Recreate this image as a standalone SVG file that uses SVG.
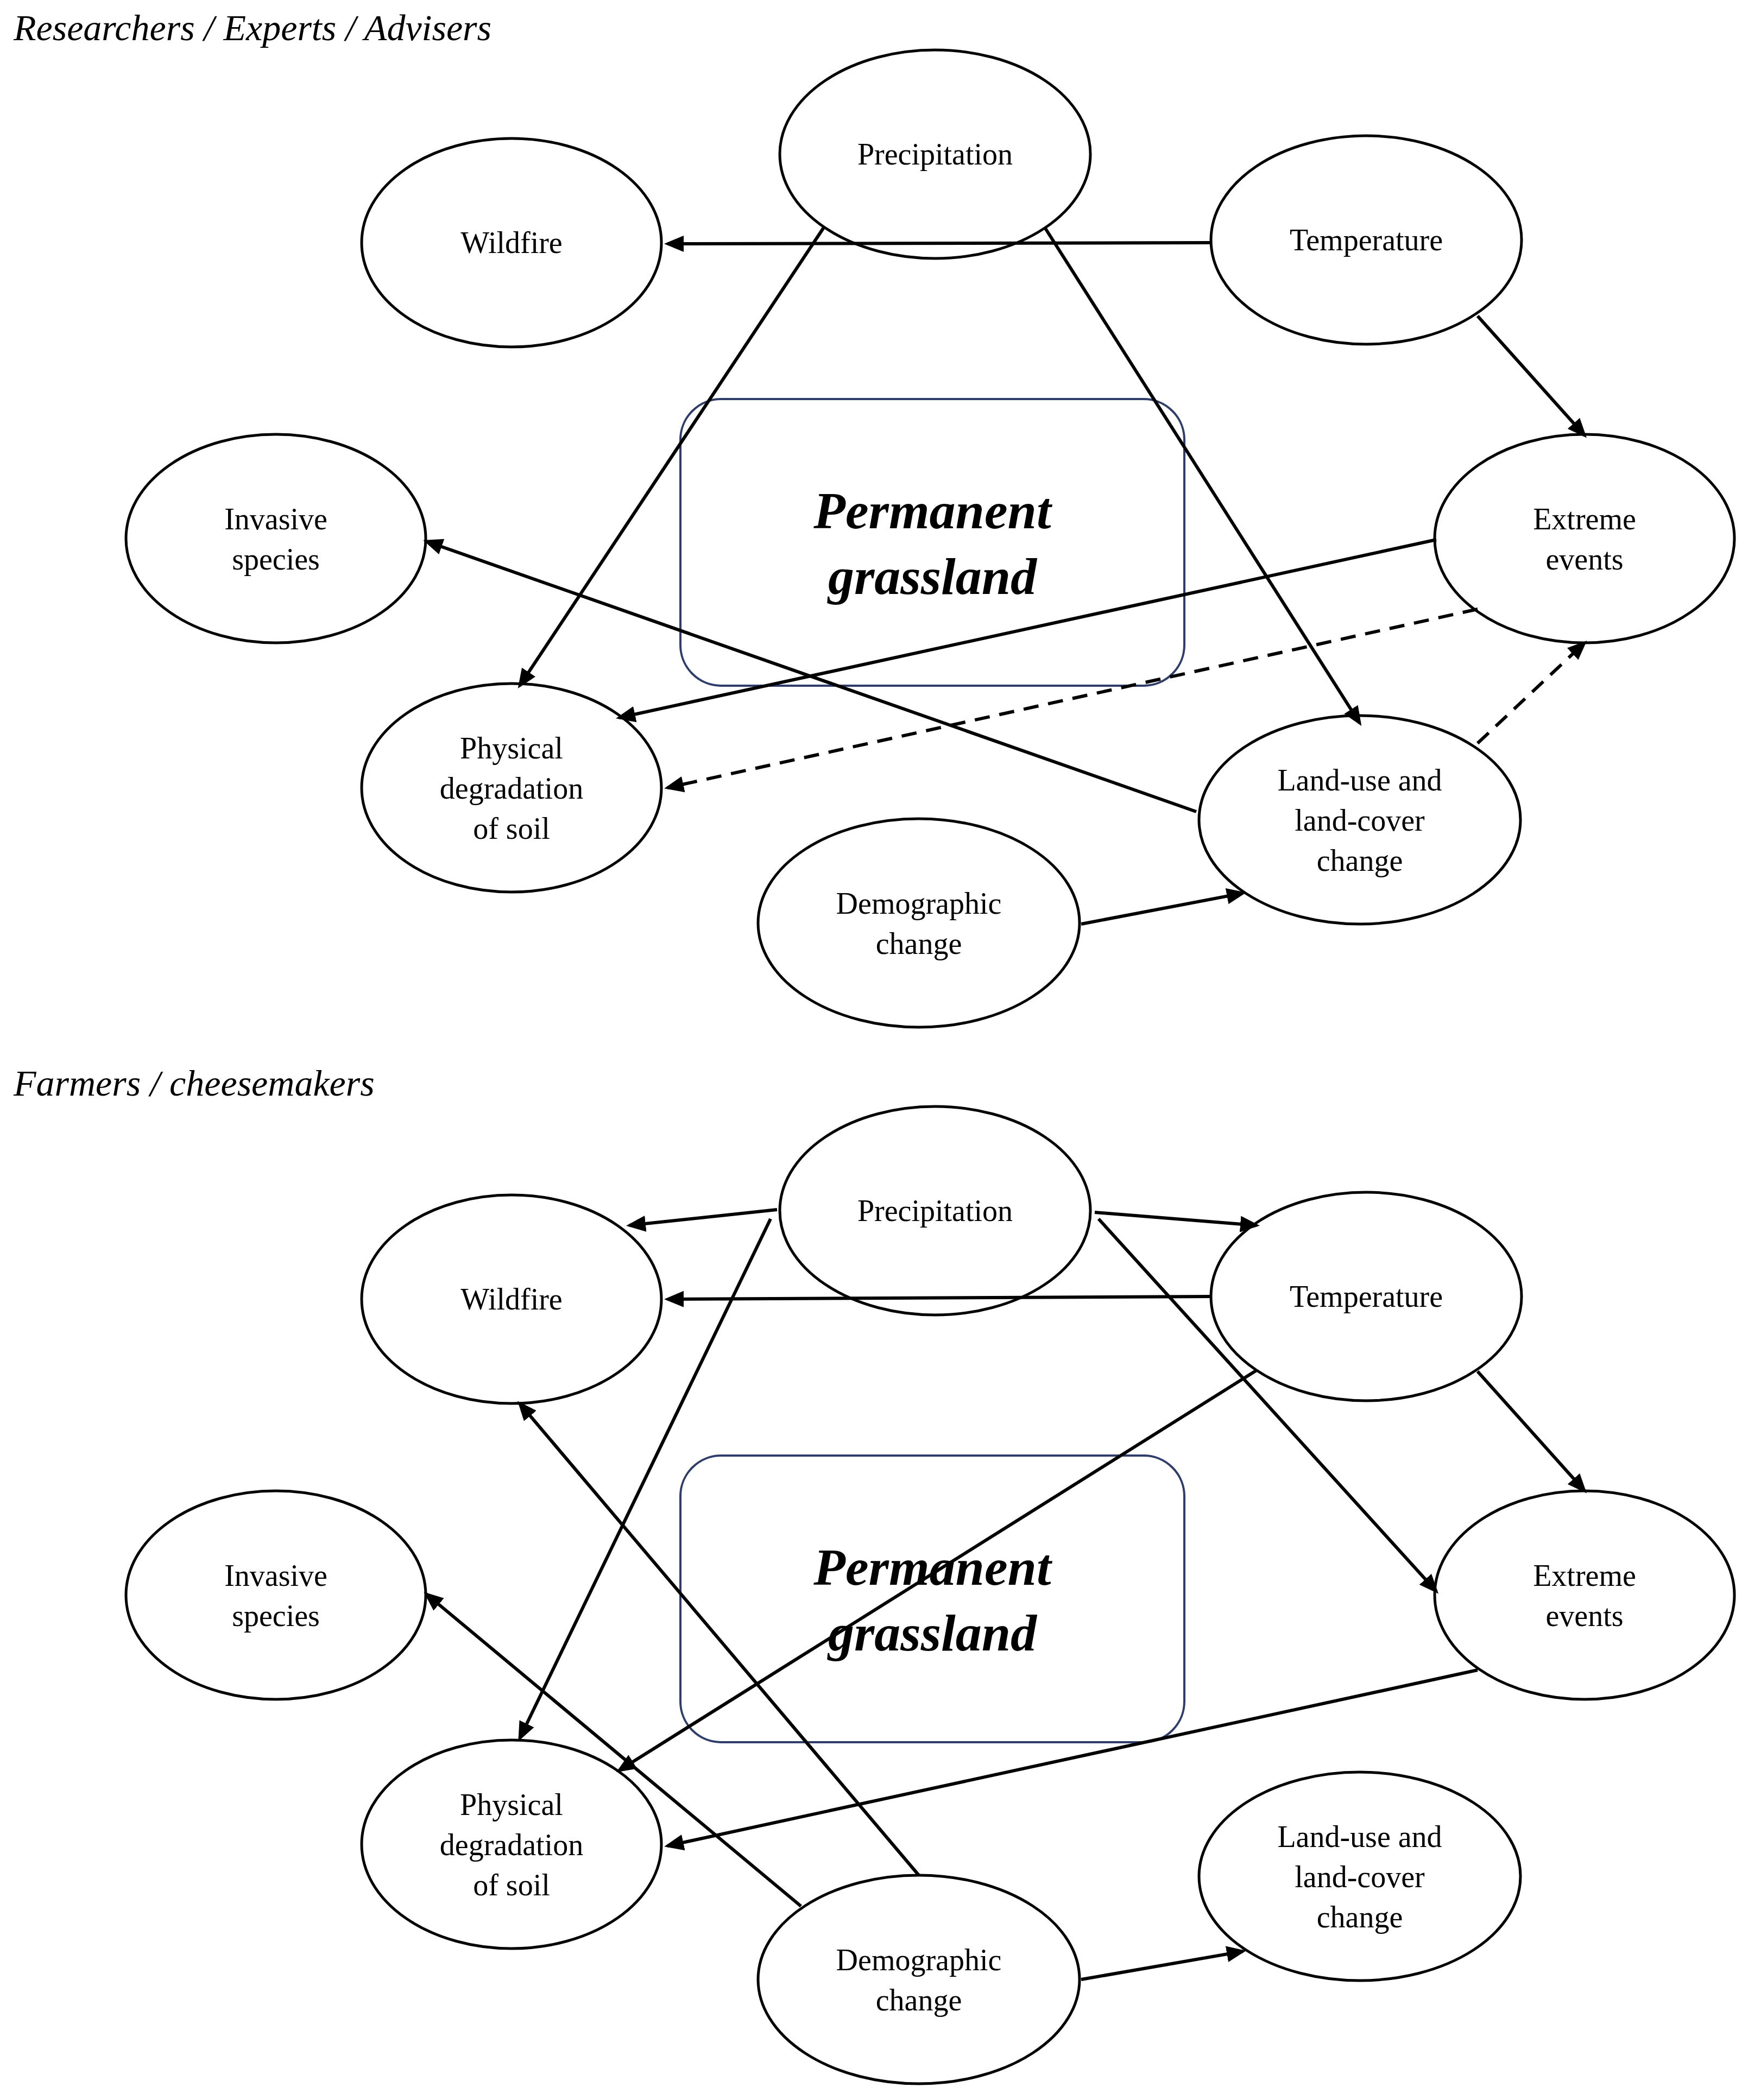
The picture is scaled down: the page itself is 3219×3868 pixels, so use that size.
<svg xmlns="http://www.w3.org/2000/svg" width="3219" height="3868" viewBox="0 0 3219 3868">
<style>
.n{fill:#fff;stroke:#000;stroke-width:5}
.t{font-family:"Liberation Serif","DejaVu Serif",serif;font-size:56px;text-anchor:middle;fill:#000}
.h{font-family:"Liberation Serif","DejaVu Serif",serif;font-size:68px;font-style:italic;fill:#000}
.b{fill:none;stroke:#2f3d6b;stroke-width:4}
.bt{font-family:"Liberation Serif","DejaVu Serif",serif;font-size:96px;font-weight:bold;font-style:italic;text-anchor:middle}
.e{stroke:#000;stroke-width:6;fill:none;marker-end:url(#a)}
.d{stroke-dasharray:28 18}
</style>
<defs><marker id="a" markerWidth="6" markerHeight="6" refX="5" refY="3" orient="auto" markerUnits="strokeWidth"><path d="M0,0.5 L6,3 L0,5.5 Z" fill="#000"/></marker></defs>
<text class="h" x="25" y="74">Researchers / Experts / Advisers</text>
<text class="h" x="25" y="2018">Farmers / cheesemakers</text>
<g id="top">
<g id="box1"><rect class="b" x="1253" y="735" width="928" height="528" rx="75"/><text class="bt" x="1717" y="973">Permanent</text><text class="bt" x="1717" y="1094">grassland</text></g>
<g id="precip1"><ellipse class="n" cx="1722" cy="284" rx="286" ry="192"/><text class="t" x="1722" y="303">Precipitation</text></g>
<g id="wildfire1"><ellipse class="n" cx="942" cy="447" rx="276" ry="192"/><text class="t" x="942" y="466">Wildfire</text></g>
<g id="temp1"><ellipse class="n" cx="2516" cy="442" rx="286" ry="192"/><text class="t" x="2516" y="461">Temperature</text></g>
<g id="invasive1"><ellipse class="n" cx="508" cy="992" rx="276" ry="192"/><text class="t" x="508" y="975">Invasive</text><text class="t" x="508" y="1049">species</text></g>
<g id="extreme1"><ellipse class="n" cx="2918" cy="992" rx="276" ry="192"/><text class="t" x="2918" y="975">Extreme</text><text class="t" x="2918" y="1049">events</text></g>
<g id="phys1"><ellipse class="n" cx="942" cy="1451" rx="276" ry="192"/><text class="t" x="942" y="1397">Physical</text><text class="t" x="942" y="1471">degradation</text><text class="t" x="942" y="1545">of soil</text></g>
<g id="landuse1"><ellipse class="n" cx="2504" cy="1510" rx="296" ry="192"/><text class="t" x="2504" y="1456">Land-use and</text><text class="t" x="2504" y="1530">land-cover</text><text class="t" x="2504" y="1604">change</text></g>
<g id="demo1"><ellipse class="n" cx="1692" cy="1700" rx="296" ry="192"/><text class="t" x="1692" y="1683">Demographic</text><text class="t" x="1692" y="1757">change</text></g>
</g>
<g id="bottom">
<g id="box2"><rect class="b" x="1253" y="2681" width="928" height="528" rx="75"/><text class="bt" x="1717" y="2919">Permanent</text><text class="bt" x="1717" y="3040">grassland</text></g>
<g id="precip2"><ellipse class="n" cx="1722" cy="2230" rx="286" ry="192"/><text class="t" x="1722" y="2249">Precipitation</text></g>
<g id="wildfire2"><ellipse class="n" cx="942" cy="2393" rx="276" ry="192"/><text class="t" x="942" y="2412">Wildfire</text></g>
<g id="temp2"><ellipse class="n" cx="2516" cy="2388" rx="286" ry="192"/><text class="t" x="2516" y="2407">Temperature</text></g>
<g id="invasive2"><ellipse class="n" cx="508" cy="2938" rx="276" ry="192"/><text class="t" x="508" y="2921">Invasive</text><text class="t" x="508" y="2995">species</text></g>
<g id="extreme2"><ellipse class="n" cx="2918" cy="2938" rx="276" ry="192"/><text class="t" x="2918" y="2921">Extreme</text><text class="t" x="2918" y="2995">events</text></g>
<g id="phys2"><ellipse class="n" cx="942" cy="3397" rx="276" ry="192"/><text class="t" x="942" y="3343">Physical</text><text class="t" x="942" y="3417">degradation</text><text class="t" x="942" y="3491">of soil</text></g>
<g id="landuse2"><ellipse class="n" cx="2504" cy="3456" rx="296" ry="192"/><text class="t" x="2504" y="3402">Land-use and</text><text class="t" x="2504" y="3476">land-cover</text><text class="t" x="2504" y="3550">change</text></g>
<g id="demo2"><ellipse class="n" cx="1692" cy="3646" rx="296" ry="192"/><text class="t" x="1692" y="3629">Demographic</text><text class="t" x="1692" y="3703">change</text></g>
</g>
<g id="connectors">
<line class="e" x1="2228" y1="447" x2="1229" y2="449"/>
<line class="e" x1="1517" y1="419" x2="957" y2="1263"/>
<line class="e" x1="1924" y1="419" x2="2504" y2="1332"/>
<line class="e" x1="2721" y1="582" x2="2918" y2="802"/>
<line class="e" x1="2645" y1="994" x2="1140" y2="1322"/>
<line class="e" x1="2203" y1="1495" x2="785" y2="997"/>
<line class="e d" x1="2721" y1="1122" x2="1229" y2="1451"/>
<line class="e d" x1="2721" y1="1369" x2="2918" y2="1184"/>
<line class="e" x1="1991" y1="1702" x2="2289" y2="1645"/>
<line class="e" x1="1431" y1="2228" x2="1159" y2="2257"/>
<line class="e" x1="2016" y1="2233" x2="2314" y2="2257"/>
<line class="e" x1="2228" y1="2388" x2="1229" y2="2393"/>
<line class="e" x1="1419" y1="2245" x2="957" y2="3202"/>
<line class="e" x1="2023" y1="2245" x2="2645" y2="2931"/>
<line class="e" x1="2721" y1="2526" x2="2918" y2="2746"/>
<line class="e" x1="2314" y1="2524" x2="1140" y2="3261"/>
<line class="e" x1="2721" y1="3076" x2="1229" y2="3400"/>
<line class="e" x1="1475" y1="3511" x2="785" y2="2936"/>
<line class="e" x1="1692" y1="3454" x2="957" y2="2585"/>
<line class="e" x1="1991" y1="3646" x2="2289" y2="3594"/>
</g>
</svg>
